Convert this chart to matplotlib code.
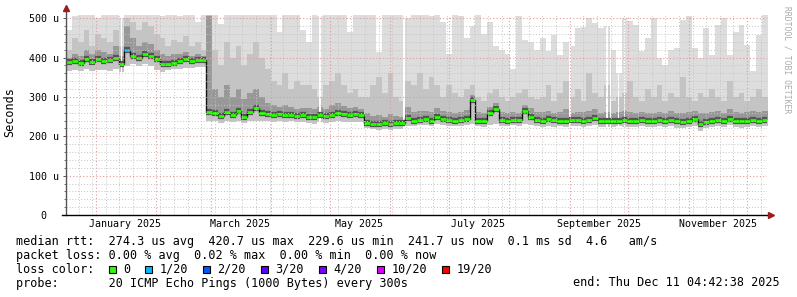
import numpy as np
import pandas as pd
import matplotlib
matplotlib.use("Agg")
import matplotlib.pyplot as plt
import matplotlib.dates as mdates
from matplotlib.patches import Rectangle
from matplotlib.ticker import MultipleLocator

plt.rcParams["font.family"] = ["DejaVu Sans Mono"]

# time range of the graph, 3-day consolidation bins
t_start = pd.Timestamp("2024-12-16 14:00")
t_end = pd.Timestamp("2025-12-11 04:42:38")
edges = pd.date_range(t_start, periods=121, freq="3D")

# median rtt per bin (us)
median = [388, 391, 387, 396, 389, 397, 390, 393, 399, 384,
          418, 405, 399, 408, 404, 395, 384, 384, 386, 392,
          395, 390, 394, 394, 262, 258, 252, 262, 255, 265,
          250, 262, 272, 258, 256, 255, 256, 253, 255, 252,
          254, 250, 249, 254, 252, 253, 258, 256, 254, 256,
          255, 234, 232, 231, 233, 230, 233, 234, 246, 240,
          242, 245, 240, 250, 243, 242, 240, 241, 244, 292,
          240, 238, 258, 270, 242, 240, 242, 241, 263, 248,
          242, 240, 243, 241, 240, 240, 241, 242, 240, 241,
          246, 238, 240, 239, 240, 241, 240, 240, 241, 240,
          239, 241, 240, 242, 238, 237, 240, 243, 230, 236,
          240, 241, 240, 244, 240, 238, 240, 242, 240, 241]

# smoke: top of light / medium / dark shades and bottom of smoke (us)
smoke_top = [470, 505, 510, 510, 510, 500, 510, 510, 510, 500,
             510, 510, 510, 510, 510, 510, 505, 510, 510, 505,
             510, 510, 490, 510, 510, 510, 485, 510, 510, 510,
             510, 510, 510, 510, 510, 510, 465, 510, 510, 510,
             470, 440, 510, 505, 510, 510, 510, 510, 465, 510,
             510, 510, 510, 415, 510, 510, 510, 510, 500, 510,
             510, 510, 505, 510, 490, 410, 510, 505, 450, 480,
             510, 460, 490, 430, 420, 410, 370, 505, 445, 440,
             420, 450, 416, 458, 407, 440, 430, 474, 478, 500,
             487, 474, 480, 420, 360, 500, 492, 483, 416, 450,
             500, 400, 380, 420, 424, 495, 505, 424, 400, 474,
             407, 483, 500, 407, 466, 483, 432, 365, 458, 508]

smoke_mid = [420, 450, 440, 470, 430, 460, 450, 440, 470, 430,
             500, 490, 470, 490, 480, 460, 450, 430, 445, 440,
             455, 430, 440, 420, 510, 420, 380, 440, 400, 430,
             380, 410, 440, 400, 370, 340, 330, 360, 320, 340,
             330, 330, 320, 300, 330, 340, 360, 330, 310, 320,
             300, 300, 330, 350, 310, 360, 300, 290, 340, 330,
             360, 320, 350, 330, 300, 330, 310, 300, 320, 330,
             300, 290, 310, 320, 300, 290, 300, 310, 320, 300,
             295, 300, 330, 290, 310, 340, 300, 320, 290, 360,
             310, 300, 330, 290, 300, 310, 340, 300, 290, 320,
             300, 330, 290, 310, 300, 350, 300, 290, 310, 300,
             320, 300, 290, 340, 300, 310, 290, 300, 320, 300]

smoke_dark = [400, 410, 405, 420, 410, 420, 415, 410, 430, 405,
              480, 450, 430, 440, 435, 420, 410, 405, 410, 408,
              415, 405, 410, 405, 505, 320, 300, 330, 300, 320,
              295, 310, 320, 300, 285, 280, 275, 280, 275, 270,
              272, 272, 268, 275, 270, 280, 285, 278, 272, 275,
              270, 260, 252, 255, 250, 256, 252, 250, 275, 262,
              265, 265, 262, 272, 265, 262, 260, 262, 266, 305,
              262, 258, 275, 285, 262, 260, 262, 260, 280, 272,
              262, 262, 265, 260, 262, 268, 260, 262, 262, 265,
              268, 258, 262, 260, 262, 265, 262, 260, 262, 260,
              260, 262, 260, 265, 258, 260, 262, 265, 258, 260,
              262, 265, 260, 268, 262, 260, 262, 264, 262, 265]

smoke_lo = [366, 368, 366, 370, 366, 368, 368, 366, 370, 363,
            378, 383, 378, 383, 378, 368, 363, 368, 370, 372,
            374, 374, 376, 376, 240, 238, 234, 240, 236, 240,
            234, 238, 240, 238, 238, 236, 238, 236, 238, 236,
            236, 234, 232, 236, 234, 236, 238, 236, 236, 236,
            236, 220, 218, 216, 218, 216, 218, 218, 226, 226,
            228, 228, 226, 230, 228, 226, 226, 226, 228, 230,
            226, 224, 228, 230, 226, 226, 228, 226, 230, 228,
            226, 224, 226, 224, 225, 224, 225, 226, 224, 226,
            228, 223, 224, 224, 225, 224, 224, 224, 225, 224,
            223, 225, 224, 226, 222, 221, 224, 226, 214, 220,
            224, 225, 224, 228, 224, 222, 224, 226, 224, 225]

# bins with packet loss (bin index -> lost pings of 20)
loss_bins = {10: 1}

# missing data (no samples)
gap_dates = ["2025-01-14", "2025-04-26", "2025-06-08", "2025-09-01",
             "2025-09-20", "2025-09-22", "2025-09-26", "2025-09-29"]

loss_labels = ["0", "1/20", "2/20", "3/20", "4/20", "10/20", "19/20"]
loss_colors = ["#26ff00", "#00b8ff", "#0059ff", "#5e00ff", "#7e00ff", "#dd00ff", "#ff0000"]
loss_steps = [0, 1, 2, 3, 4, 10, 19]

y_ticks = [0, 100, 200, 300, 400, 500]
y_ticklabels = ["0  ", "100 u", "200 u", "300 u", "400 u", "500 u"]
month_labels = ["January 2025", "March 2025", "May 2025", "July 2025",
                "September 2025", "November 2025"]
month_label_dates = ["2025-01-16", "2025-03-16", "2025-05-16", "2025-07-16",
                     "2025-09-16", "2025-11-16"]

stats_line = "median rtt:  274.3 us avg  420.7 us max  229.6 us min  241.7 us now  0.1 ms sd  4.6   am/s"
loss_line = "packet loss: 0.00 % avg  0.02 % max  0.00 % min  0.00 % now"
probe_line = "probe:       20 ICMP Echo Pings (1000 Bytes) every 300s"
end_line = "end: Thu Dec 11 04:42:38 2025"

W, H = 797, 297
fig = plt.figure(figsize=(W / 100, H / 100), dpi=100)
ax = fig.add_axes([66 / W, 82 / H, 701 / W, 200 / H])

x = mdates.date2num(edges.to_pydatetime())
xl, xr = x[:-1], x[1:]


def ext(v):
    v = np.asarray(v, dtype=float)
    return np.append(v, v[-1])


lo = ext(smoke_lo)
ax.fill_between(x, lo, ext(smoke_top), step="post", color="#dddddd", lw=0, zorder=1)
ax.fill_between(x, lo, ext(smoke_mid), step="post", color="#c4c4c4", lw=0, zorder=1.1)
ax.fill_between(x, ext(median), ext(smoke_dark), step="post", color="#989898", lw=0, zorder=1.2)

gx = mdates.date2num(pd.to_datetime(gap_dates).to_pydatetime())
ax.bar(gx, 520, width=0.8, bottom=0, color="white", lw=0, zorder=1.5)

# median line
ax.hlines(median, xl, xr, color="#555555", lw=4.5, zorder=1.8)
ax.step(x, ext(median), where="post", color="#111111", lw=1.0, zorder=2.0)
col = [loss_colors[loss_steps.index(loss_bins.get(i, 0))] for i in range(len(median))]
ax.hlines(median, xl, xr, colors=col, lw=2.0, zorder=2.1)

ax.set_xlim(mdates.date2num(t_start), mdates.date2num(t_end))
ax.set_ylim(0, 508)

ax.xaxis.set_major_locator(mdates.MonthLocator())
ax.xaxis.set_minor_locator(mdates.WeekdayLocator(byweekday=mdates.MO))
ax.yaxis.set_major_locator(MultipleLocator(100))
ax.yaxis.set_minor_locator(MultipleLocator(20))
ax.set_axisbelow(False)
ax.grid(which="minor", color="#c4c4c4", ls=(0, (1, 2)), lw=0.7)
ax.grid(which="major", color="#e49a9a", ls=(0, (1, 2)), lw=0.8)

ax.set_yticks(y_ticks)
ax.set_yticklabels(y_ticklabels, fontsize=7.2)
ax.tick_params(axis="y", which="major", length=2.5, width=0.7, color="#555555", pad=2.5)
ax.tick_params(axis="y", which="minor", length=1.5, width=0.6, color="#555555")
ax.tick_params(axis="x", which="both", length=0, labelbottom=False)

for s in ax.spines.values():
    s.set_visible(False)

# axes with arrows
ax.plot([0, 0], [0, 1.035], transform=ax.transAxes, color="#555555", lw=1.0, clip_on=False, zorder=5)
ax.plot([-0.005, 1.003], [0, 0], transform=ax.transAxes, color="black", lw=1.0, clip_on=False, zorder=5)
ax.plot([0], [1.035], transform=ax.transAxes, marker="^", ms=4.5, color="#9b1c1c", clip_on=False, zorder=6)
ax.plot([1.006], [0], transform=ax.transAxes, marker=">", ms=4.5, color="#9b1c1c", clip_on=False, zorder=6)

for lab, d in zip(month_labels, month_label_dates):
    ax.text(mdates.date2num(pd.Timestamp(d)), -0.045, lab, transform=ax.get_xaxis_transform(),
            ha="center", va="center", fontsize=7.2)

fig.text(10 / W, 1 - 112 / H, "Seconds", rotation=90, ha="center", va="center", fontsize=8.5)
fig.text(787 / W, 1 - 60 / H, "RRDTOOL / TOBI OETIKER", rotation=270, ha="center", va="center",
         fontsize=5.8, color="#aaaaaa")

fs = 8.5
fig.text(16 / W, 1 - 241.5 / H, stats_line, ha="left", va="center", fontsize=fs)
fig.text(16 / W, 1 - 255.3 / H, loss_line, ha="left", va="center", fontsize=fs)
fig.text(16 / W, 1 - 269.2 / H, "loss color:", ha="left", va="center", fontsize=fs)
fig.text(16 / W, 1 - 283 / H, probe_line, ha="left", va="center", fontsize=fs)
fig.text(780 / W, 1 - 283 / H, end_line, ha="right", va="center", fontsize=fs)

bx = 108.5
for lab, c in zip(loss_labels, loss_colors):
    fig.patches.append(Rectangle((bx / W, 1 - 273 / H), 7 / W, 7.5 / H, transform=fig.transFigure,
                                 facecolor=c, edgecolor="black", lw=0.8))
    tx = bx + 14.5
    fig.text(tx / W, 1 - 269.2 / H, lab, ha="left", va="center", fontsize=fs)
    bx = tx + len(lab) * 7.12 + 15

fig.savefig("out.png", dpi=100)
